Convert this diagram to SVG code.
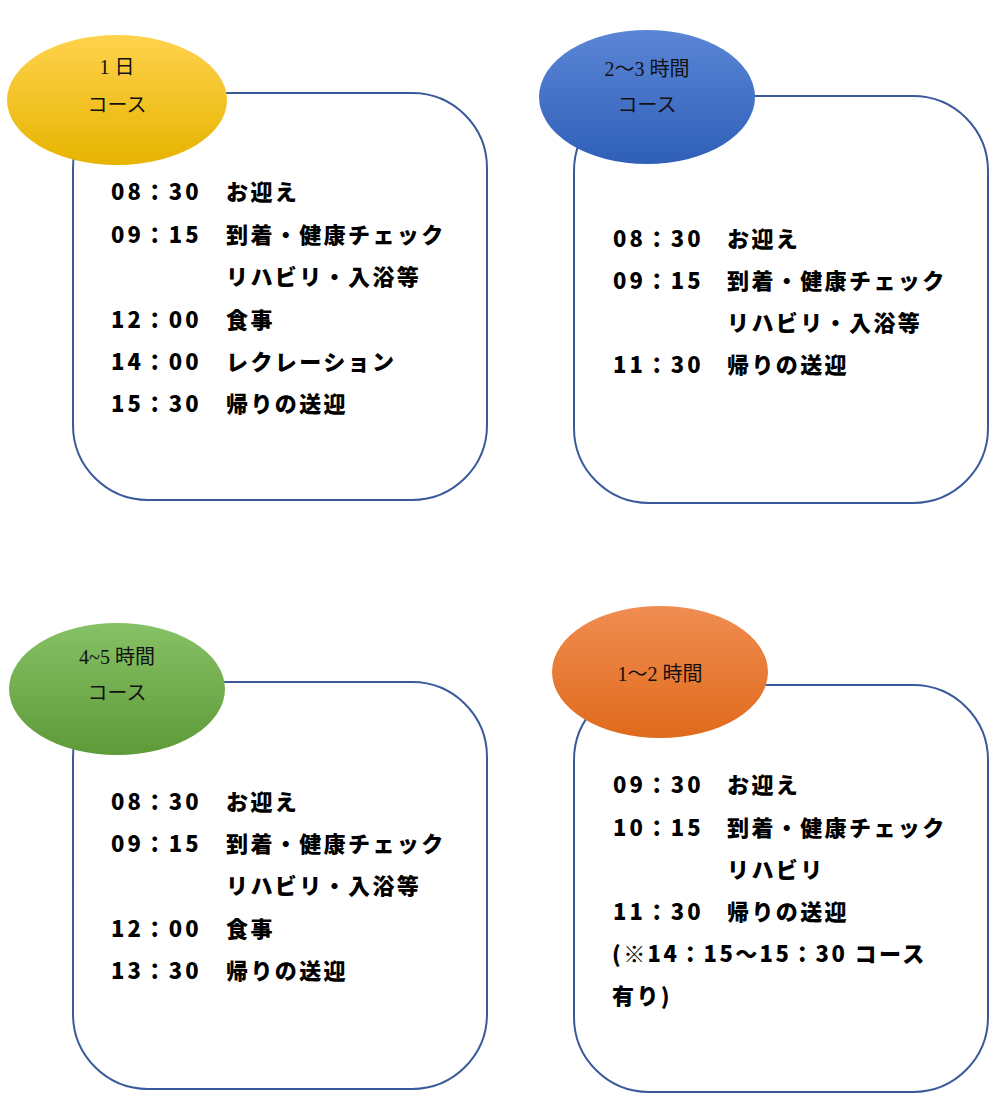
<svg xmlns="http://www.w3.org/2000/svg" width="1000" height="1099" viewBox="0 0 1000 1099">
<style>
.box{fill:#fff;stroke:#3a5a9a;stroke-width:2}
.h{font-family:"Liberation Serif","Noto Sans CJK JP",serif;font-size:20px;text-anchor:middle;fill:#111}
.t{font-family:"Noto Sans CJK JP",sans-serif;font-weight:900;font-size:22px;fill:#000;letter-spacing:2.4px}
.m{letter-spacing:3px}
</style>
<defs>
<linearGradient id="gy" x1="0" y1="0" x2="0" y2="1"><stop offset="0" stop-color="#ffd24d"/><stop offset="1" stop-color="#e6b400"/></linearGradient>
<linearGradient id="gb" x1="0" y1="0" x2="0" y2="1"><stop offset="0" stop-color="#5b86d6"/><stop offset="1" stop-color="#2f5fb8"/></linearGradient>
<linearGradient id="gg" x1="0" y1="0" x2="0" y2="1"><stop offset="0" stop-color="#86c166"/><stop offset="1" stop-color="#5e9a38"/></linearGradient>
<linearGradient id="go" x1="0" y1="0" x2="0" y2="1"><stop offset="0" stop-color="#f08d52"/><stop offset="1" stop-color="#e06a1c"/></linearGradient>
</defs>
<rect width="1000" height="1099" fill="#fff"/>
<g id="n1">
<rect class="box" x="73" y="93" width="414" height="407" rx="75"/>
<ellipse cx="117" cy="100" rx="110" ry="65" fill="url(#gy)"/>
<text class="h" x="117" y="74">1 日</text><text class="h" x="117" y="112">コース</text>
<text class="t m" x="111" y="200">08：30</text><text class="t" x="226" y="200">お迎え</text>
<text class="t m" x="111" y="243">09：15</text><text class="t" x="226" y="243">到着・健康チェック</text>
<text class="t" x="226" y="285">リハビリ・入浴等</text>
<text class="t m" x="111" y="328">12：00</text><text class="t" x="226" y="328">食事</text>
<text class="t m" x="111" y="370">14：00</text><text class="t" x="226" y="370">レクレーション</text>
<text class="t m" x="111" y="412">15：30</text><text class="t" x="226" y="412">帰りの送迎</text>
</g>
<g id="n2">
<rect class="box" x="574" y="96" width="414" height="407" rx="75"/>
<ellipse cx="647" cy="97" rx="108" ry="67" fill="url(#gb)"/>
<text class="h" x="647" y="76">2〜3 時間</text><text class="h" x="647" y="112">コース</text>
<text class="t m" x="613" y="247">08：30</text><text class="t" x="727" y="247">お迎え</text>
<text class="t m" x="613" y="289">09：15</text><text class="t" x="727" y="289">到着・健康チェック</text>
<text class="t" x="727" y="331">リハビリ・入浴等</text>
<text class="t m" x="613" y="373">11：30</text><text class="t" x="727" y="373">帰りの送迎</text>
</g>
<g id="n3">
<rect class="box" x="73" y="682" width="414" height="407" rx="75"/>
<ellipse cx="117" cy="689" rx="108" ry="66" fill="url(#gg)"/>
<text class="h" x="117" y="664">4~5 時間</text><text class="h" x="117" y="700">コース</text>
<text class="t m" x="111" y="810">08：30</text><text class="t" x="226" y="810">お迎え</text>
<text class="t m" x="111" y="852">09：15</text><text class="t" x="226" y="852">到着・健康チェック</text>
<text class="t" x="226" y="894">リハビリ・入浴等</text>
<text class="t m" x="111" y="937">12：00</text><text class="t" x="226" y="937">食事</text>
<text class="t m" x="111" y="979">13：30</text><text class="t" x="226" y="979">帰りの送迎</text>
</g>
<g id="n4">
<rect class="box" x="574" y="685" width="414" height="407" rx="75"/>
<ellipse cx="660" cy="672" rx="108" ry="66" fill="url(#go)"/>
<text class="h" x="660" y="681">1〜2 時間</text>
<text class="t m" x="613" y="793">09：30</text><text class="t" x="727" y="793">お迎え</text>
<text class="t m" x="613" y="836">10：15</text><text class="t" x="727" y="836">到着・健康チェック</text>
<text class="t" x="727" y="878">リハビリ</text>
<text class="t m" x="613" y="920">11：30</text><text class="t" x="727" y="920">帰りの送迎</text>
<text class="t" x="612" y="962">(※14：15〜15：30 コース</text>
<text class="t" x="612" y="1004">有り)</text>
</g>
<g id="connectors"/>
</svg>
